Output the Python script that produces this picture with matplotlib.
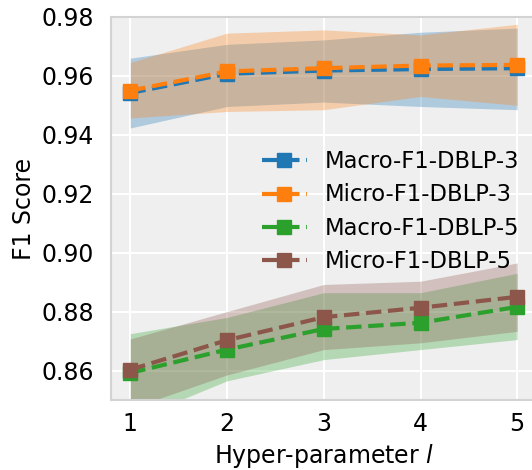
import numpy as np
import matplotlib
matplotlib.use("Agg")
import matplotlib.pyplot as plt

# hyper-parameter values
l_values = [1, 2, 3, 4, 5]

# mean F1 scores
macro_dblp3 = [0.9542, 0.9607, 0.9618, 0.9623, 0.9626]
micro_dblp3 = [0.9550, 0.9615, 0.9626, 0.9635, 0.9637]
macro_dblp5 = [0.8592, 0.8671, 0.8741, 0.8762, 0.8816]
micro_dblp5 = [0.8603, 0.8703, 0.8781, 0.8813, 0.8850]

# band limits (lower / upper)
macro_dblp3_lo = [0.9423, 0.9496, 0.9511, 0.9496, 0.9485]
macro_dblp3_hi = [0.9660, 0.9707, 0.9722, 0.9748, 0.9762]
micro_dblp3_lo = [0.9457, 0.9479, 0.9485, 0.9530, 0.9500]
micro_dblp3_hi = [0.9645, 0.9745, 0.9756, 0.9739, 0.9775]
macro_dblp5_lo = [0.8430, 0.8565, 0.8637, 0.8671, 0.8705]
macro_dblp5_hi = [0.8725, 0.8780, 0.8864, 0.8864, 0.8930]
micro_dblp5_lo = [0.8471, 0.8585, 0.8671, 0.8694, 0.8733]
micro_dblp5_hi = [0.8707, 0.8800, 0.8892, 0.8903, 0.8965]

series = [
    ("Macro-F1-DBLP-3", macro_dblp3, macro_dblp3_lo, macro_dblp3_hi, "#1f77b4"),
    ("Micro-F1-DBLP-3", micro_dblp3, micro_dblp3_lo, micro_dblp3_hi, "#ff7f0e"),
    ("Macro-F1-DBLP-5", macro_dblp5, macro_dblp5_lo, macro_dblp5_hi, "#2ca02c"),
    ("Micro-F1-DBLP-5", micro_dblp5, micro_dblp5_lo, micro_dblp5_hi, "#8c564b"),
]

fig = plt.figure(figsize=(5.32, 4.70), dpi=100)
ax = fig.add_axes([0.2086, 0.149, 0.800, 0.815])
ax.set_facecolor("#EFEFEF")

for label, mean, lo, hi, color in series:
    ax.fill_between(l_values, lo, hi, color=color, alpha=0.3, linewidth=0)
    ax.plot(l_values, mean, linestyle="--", linewidth=3, marker="s",
            markersize=10, color=color, label=label)

ax.set_xlim(0.8, 5.2)
ax.set_ylim(0.85, 0.98)
ax.set_xticks(l_values)
ax.set_yticks([0.86, 0.88, 0.90, 0.92, 0.94, 0.96, 0.98])
ax.grid(True, color="white", linewidth=1.5)
ax.set_axisbelow(True)
for sp in ax.spines.values():
    sp.set_color("#D3D3D3")
    sp.set_linewidth(1.5)
ax.tick_params(length=0, labelsize=17)
ax.tick_params(axis="x", pad=9)
ax.tick_params(axis="y", pad=12)

ax.set_xlabel("Hyper-parameter $l$", fontsize=17, labelpad=4)
ax.set_ylabel("F1 Score", fontsize=17, labelpad=4)

ax.legend(loc="upper right", bbox_to_anchor=(1.008, 0.705), frameon=False,
          fontsize=16.3, labelspacing=0.45)

fig.savefig("out.png", dpi=100)
